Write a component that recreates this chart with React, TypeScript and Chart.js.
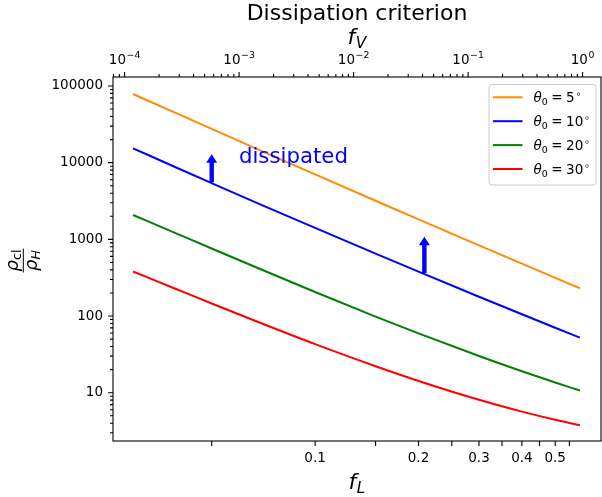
import React, { useEffect, useRef } from 'react';
import { Chart, registerables } from 'chart.js';

Chart.register(...registerables);

// ---- data ----
const fL = [0.0295, 0.04, 0.05, 0.07, 0.1, 0.15, 0.2, 0.3, 0.4, 0.5, 0.59];
const theta5 = [78650, 42880, 27540, 14160, 7030, 3187, 1825, 836, 482, 315, 230];
const theta10 = [15400, 8400, 5410, 2800, 1408, 651, 379, 178.6, 105.5, 70.4, 52.3];
const theta20 = [2078, 1162, 759, 401, 205.8, 98.4, 59.4, 30.06, 19.03, 13.58, 10.69];
const theta30 = [381, 218.6, 145.7, 79.8, 43.0, 22.13, 14.24, 8.09, 5.67, 4.43, 3.76];
const thetaDeg = ['5', '10', '20', '30'];
const seriesLabels = ['θ₀ = 5°', 'θ₀ = 10°', 'θ₀ = 20°', 'θ₀ = 30°'];
const seriesColors = ['#ff8c00', '#0000ff', '#008000', '#ff0000'];

// arrows (f_L, from, to) and annotation
const arrowX = [0.05, 0.208];
const arrowFrom = [5550, 365];
const arrowTo = [12860, 1083];
const noteText = 'dissipated';
const noteX = 0.06;
const noteY = 10000;

// axes
const xMin = 0.0258;
const xMax = 0.6797;
const fvC = 0.6008; // f_L = fvC * f_V^(1/3)
const yMin = 2.345;
const yMax = 131000;

const bottomTicks = [0.05, 0.1, 0.15, 0.2, 0.25, 0.3, 0.35, 0.4, 0.45, 0.5, 0.55];
const bottomLabels = ['', '0.1', '', '0.2', '', '0.3', '', '0.4', '', '0.5', ''];
const topDecades = [1e-4, 1e-3, 1e-2, 1e-1, 1];
const topLabelBase = '10';
const topExponents = ['\u22124', '\u22123', '\u22122', '\u22121', '0'];
const yDecades = [1, 10, 100, 1000, 10000, 100000];
const yLabels = ['1', '10', '100', '1000', '10000', '100000'];

const titleText = 'Dissipation criterion';
const FONT = '"DejaVu Sans"';
const TICK_SIZE = 13.5;

type T = { value: number; major: boolean; label: string; exp?: string };

function logTicks(decades: number[], labels: string[], lo: number, hi: number): T[] {
  const out: T[] = [];
  decades.forEach((d, i) => {
    for (let m = 1; m <= 9; m++) {
      const v = d * m;
      if (v >= lo * 0.9999 && v <= hi * 1.0001) out.push({ value: v, major: m === 1, label: m === 1 ? labels[i] : '' });
    }
  });
  const d0 = decades[0] / 10;
  for (let m = 9; m >= 2; m--) {
    const v = d0 * m;
    if (v >= lo && v <= hi) out.unshift({ value: v, major: false, label: '' });
  }
  return out;
}

type Seg = { t: string; it?: boolean; s?: number; dy?: number; gap?: number };

function mathWidth(ctx: CanvasRenderingContext2D, segs: Seg[], base: number) {
  let w = 0;
  for (const sg of segs) {
    ctx.font = `${sg.it ? 'italic ' : ''}${base * (sg.s ?? 1)}px ${FONT}`;
    w += (sg.gap ?? 0) + ctx.measureText(sg.t).width;
  }
  return w;
}

function drawMath(ctx: CanvasRenderingContext2D, segs: Seg[], x: number, y: number, base: number, align: 'left' | 'center') {
  const w = mathWidth(ctx, segs, base);
  let cx = align === 'center' ? x - w / 2 : x;
  ctx.textAlign = 'left';
  ctx.textBaseline = 'alphabetic';
  for (const sg of segs) {
    ctx.font = `${sg.it ? 'italic ' : ''}${base * (sg.s ?? 1)}px ${FONT}`;
    cx += sg.gap ?? 0;
    ctx.fillText(sg.t, cx, y + (sg.dy ?? 0));
    cx += ctx.measureText(sg.t).width;
  }
}

const overlay = {
  id: 'overlay',
  afterDatasetsDraw(chart: any) {
    const { ctx, scales } = chart;
    const x = scales.x;
    const y = scales.y;
    ctx.save();
    ctx.fillStyle = '#0000ff';
    for (let i = 0; i < arrowX.length; i++) {
      const px = x.getPixelForValue(arrowX[i]);
      const y0 = y.getPixelForValue(arrowFrom[i]);
      const y1 = y.getPixelForValue(arrowTo[i]);
      const sw = 2.2, hw = 5.5, hl = 8.5;
      ctx.beginPath();
      ctx.moveTo(px - sw, y0);
      ctx.lineTo(px - sw, y1 + hl);
      ctx.lineTo(px - hw, y1 + hl);
      ctx.lineTo(px, y1);
      ctx.lineTo(px + hw, y1 + hl);
      ctx.lineTo(px + sw, y1 + hl);
      ctx.lineTo(px + sw, y0);
      ctx.closePath();
      ctx.fill();
    }
    ctx.font = `21.3px ${FONT}`;
    ctx.textAlign = 'left';
    ctx.textBaseline = 'alphabetic';
    ctx.fillText(noteText, x.getPixelForValue(noteX), y.getPixelForValue(noteY));
    ctx.restore();
  },
  afterDraw(chart: any) {
    const { ctx, chartArea: a, scales } = chart;
    ctx.save();
    ctx.strokeStyle = '#000';
    ctx.lineWidth = 1.1;
    ctx.beginPath();
    for (const t of scales.y.ticks) {
      const p = scales.y.getPixelForValue(t.value);
      const len = t.major ? 5 : 3;
      ctx.moveTo(a.left - len, p);
      ctx.lineTo(a.left, p);
    }
    for (const t of scales.x.ticks) {
      const p = scales.x.getPixelForValue(t.value);
      ctx.moveTo(p, a.bottom);
      ctx.lineTo(p, a.bottom + 5);
    }
    for (const t of scales.x2.ticks) {
      const p = scales.x2.getPixelForValue(t.value);
      const len = t.major ? 5 : 3;
      ctx.moveTo(p, a.top - len);
      ctx.lineTo(p, a.top);
    }
    ctx.stroke();
    ctx.strokeRect(a.left, a.top, a.right - a.left, a.bottom - a.top);

    // top axis labels: 10^n
    ctx.fillStyle = '#000';
    for (const t of scales.x2.ticks) {
      if (!t.major || !t.exp) continue;
      const p = scales.x2.getPixelForValue(t.value);
      drawMath(ctx, [{ t: topLabelBase }, { t: t.exp, s: 0.7, dy: -6.5, gap: 0.5 }], p, a.top - 13, TICK_SIZE, 'center');
    }

    // legend
    const bw = 107, bh = 100.5;
    const bx = a.right - 5.5 - bw;
    const by = a.top + 7;
    ctx.beginPath();
    (ctx as any).roundRect(bx + 0.5, by + 0.5, bw, bh, 3);
    ctx.fillStyle = 'rgba(255,255,255,0.8)';
    ctx.fill();
    ctx.strokeStyle = '#cccccc';
    ctx.lineWidth = 1;
    ctx.stroke();
    chart.data.datasets.forEach((ds: any, i: number) => {
      const ry = by + 13.3 + i * 23.9;
      ctx.strokeStyle = ds.borderColor;
      ctx.lineWidth = 2;
      ctx.beginPath();
      ctx.moveTo(bx + 4.4, ry);
      ctx.lineTo(bx + 34, ry);
      ctx.stroke();
      ctx.fillStyle = '#000';
      drawMath(ctx, [
        { t: 'θ', it: true },
        { t: '0', s: 0.7, dy: 3 },
        { t: '=', gap: 3.5 },
        { t: thetaDeg[i], gap: 3.5 },
        { t: '∘', s: 0.7, dy: -5, gap: 0.8 },
      ], bx + 45, ry + 4.8, TICK_SIZE, 'left');
    });

    // title and axis labels
    const cx = (a.left + a.right) / 2;
    ctx.fillStyle = '#000';
    ctx.font = `22px ${FONT}`;
    ctx.textAlign = 'center';
    ctx.textBaseline = 'alphabetic';
    ctx.fillText(titleText, cx, 20);
    drawMath(ctx, [{ t: 'f', it: true }, { t: 'V', it: true, s: 0.7, dy: 4, gap: 0.5 }], cx, 44, 22, 'center');
    drawMath(ctx, [{ t: 'f', it: true }, { t: 'L', it: true, s: 0.7, dy: 4, gap: 0.5 }], cx, 489, 22, 'center');

    // y label: rho_cl / rho_H, rotated
    ctx.save();
    ctx.translate(23.3, 260.5);
    ctx.rotate(-Math.PI / 2);
    const F = 18;
    const num: Seg[] = [{ t: 'ρ', it: true }, { t: 'cl', s: 0.7, dy: 3.5 }];
    const den: Seg[] = [{ t: 'ρ', it: true }, { t: 'H', it: true, s: 0.7, dy: 3.5 }];
    const wn = mathWidth(ctx, num, F);
    const wd = mathWidth(ctx, den, F);
    const wb = Math.max(wn, wd) + 2;
    drawMath(ctx, num, 0, -5.5, F, 'center');
    drawMath(ctx, den, 0, 13.5, F, 'center');
    ctx.fillRect(-wb / 2, -0.5, wb, 1);
    ctx.restore();

    ctx.restore();
  },
};

export default function App() {
  const ref = useRef<HTMLCanvasElement>(null);
  useEffect(() => {
    const series = [theta5, theta10, theta20, theta30];
    const topMin = Math.pow(xMin / fvC, 3);
    const topMax = Math.pow(xMax / fvC, 3);
    const topTicks = logTicks(topDecades, topExponents, topMin, topMax).map((t) => ({ ...t, exp: t.label, label: '' }));
    const yTicks = logTicks(yDecades, yLabels, yMin, yMax);
    const botTicks: T[] = bottomTicks.map((v, i) => ({ value: v, major: true, label: bottomLabels[i] }));
    const tickFont = { family: 'DejaVu Sans', size: TICK_SIZE };

    const chart = new Chart(ref.current as HTMLCanvasElement, {
      type: 'scatter',
      data: {
        datasets: series.map((s, i) => ({
          label: seriesLabels[i],
          data: fL.map((v, j) => ({ x: v, y: s[j] })),
          borderColor: seriesColors[i],
          backgroundColor: seriesColors[i],
          showLine: true,
          pointRadius: 0,
          borderWidth: 2,
          cubicInterpolationMode: 'monotone',
          xAxisID: 'x',
          yAxisID: 'y',
        })),
      },
      options: {
        animation: false,
        responsive: false,
        devicePixelRatio: 1,
        events: [],
        layout: { padding: { left: 0, top: 0, right: 1, bottom: 0 } },
        plugins: { legend: { display: false }, tooltip: { enabled: false }, title: { display: false } },
        scales: {
          x: {
            type: 'logarithmic',
            position: 'bottom',
            min: xMin,
            max: xMax,
            bounds: 'data',
            grid: { display: false, drawTicks: false },
            border: { display: false },
            ticks: {
              autoSkip: false, maxRotation: 0, minRotation: 0, padding: 9, color: '#000', font: tickFont,
              callback: (_v: any, i: number) => botTicks[i] ? botTicks[i].label : '',
            },
            afterBuildTicks: (s: any) => { s.ticks = botTicks.map((t) => ({ ...t })); },
            afterFit: (s: any) => { s.height = 56; },
          },
          x2: {
            type: 'logarithmic',
            position: 'top',
            min: topMin,
            max: topMax,
            bounds: 'data',
            grid: { display: false, drawTicks: false },
            border: { display: false },
            ticks: {
              autoSkip: false, maxRotation: 0, minRotation: 0, padding: 10, color: '#000', font: tickFont,
              callback: () => '',
            },
            afterBuildTicks: (s: any) => { s.ticks = topTicks.map((t) => ({ ...t })); },
            afterFit: (s: any) => { s.height = 77; },
          },
          y: {
            type: 'logarithmic',
            position: 'left',
            min: yMin,
            max: yMax,
            bounds: 'data',
            grid: { display: false, drawTicks: false },
            border: { display: false },
            ticks: {
              autoSkip: false, padding: 10, color: '#000', font: tickFont,
              callback: (_v: any, i: number) => yTicks[i] ? yTicks[i].label : '',
            },
            afterBuildTicks: (s: any) => { s.ticks = yTicks.map((t) => ({ ...t })); },
            afterFit: (s: any) => { s.width = 113; },
          },
        },
      } as any,
      plugins: [overlay],
    });
    return () => chart.destroy();
  }, []);
  return (
    <div style={{ position: 'fixed', left: 0, top: 0, width: 602, height: 497, background: '#fff' }}>
      <canvas ref={ref} width={602} height={497} style={{ width: 602, height: 497, display: 'block' }} />
    </div>
  );
}
